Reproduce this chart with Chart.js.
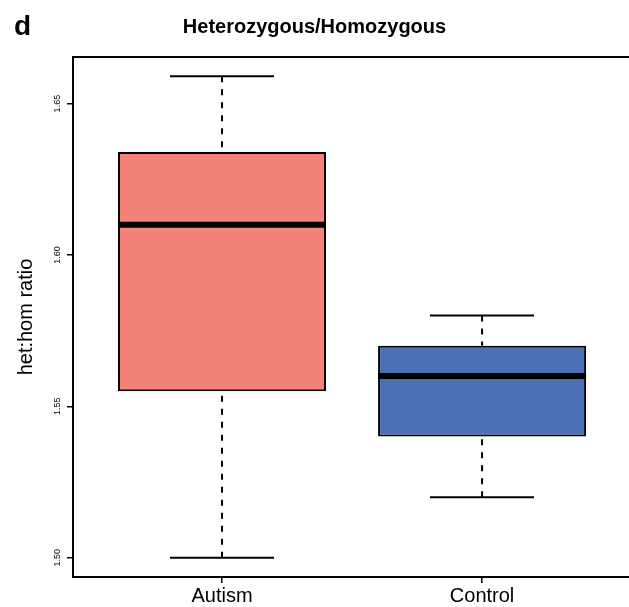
<!DOCTYPE html>
<html>
<head>
<meta charset="utf-8">
<script src="https://cdn.jsdelivr.net/npm/chart.js@4/dist/chart.umd.min.js"></script>
<style>
  html, body { margin: 0; padding: 0; background: #fff; overflow: hidden; }
  #wrap { width: 629px; height: 607px; }
</style>
</head>
<body>
<div id="wrap"><canvas id="c" width="629" height="607"></canvas></div>
<script>
// ---- data ----
const categories = ['Autism', 'Control'];
const whiskerLow  = [1.500, 1.520];
const q1          = [1.555, 1.540];
const median      = [1.610, 1.560];
const q3          = [1.634, 1.570];
const whiskerHigh = [1.659, 1.580];
const boxColors   = ['#F38278', '#4A6FB5'];
const yTicks      = [1.50, 1.55, 1.60, 1.65];
const yTickLabels = ['1.50', '1.55', '1.60', '1.65'];
const categoryPositions = [1, 2];

const boxData = categories.map((c, i) => ({ x: categoryPositions[i], y: [q1[i], q3[i]] }));

const FONT = '"Liberation Sans", Arial, Helvetica, sans-serif';

const boxPlugin = {
  id: 'boxParts',
  beforeDatasetsDraw(chart) {
    // whiskers (dashed) + staples
    const ctx = chart.ctx;
    const yS = chart.scales.y;
    const meta = chart.getDatasetMeta(0);
    ctx.save();
    meta.data.forEach((bar, i) => {
      const x = bar.x;
      const half = bar.width / 4;
      ctx.strokeStyle = '#000';
      ctx.lineWidth = 2;
      ctx.setLineDash([6, 7]);
      ctx.beginPath();
      ctx.moveTo(x, yS.getPixelForValue(whiskerHigh[i]));
      ctx.lineTo(x, yS.getPixelForValue(q3[i]));
      ctx.moveTo(x, yS.getPixelForValue(whiskerLow[i]));
      ctx.lineTo(x, yS.getPixelForValue(q1[i]));
      ctx.stroke();
      ctx.setLineDash([]);
      ctx.beginPath();
      ctx.moveTo(x - half, yS.getPixelForValue(whiskerHigh[i]));
      ctx.lineTo(x + half, yS.getPixelForValue(whiskerHigh[i]));
      ctx.moveTo(x - half, yS.getPixelForValue(whiskerLow[i]));
      ctx.lineTo(x + half, yS.getPixelForValue(whiskerLow[i]));
      ctx.stroke();
    });
    ctx.restore();
  },
  afterDatasetsDraw(chart) {
    const ctx = chart.ctx;
    const yS = chart.scales.y;
    const meta = chart.getDatasetMeta(0);
    ctx.save();
    meta.data.forEach((bar, i) => {
      const y = yS.getPixelForValue(median[i]);
      ctx.strokeStyle = '#000';
      ctx.lineWidth = 6;
      ctx.lineCap = 'butt';
      ctx.beginPath();
      ctx.moveTo(bar.x - bar.width / 2, y);
      ctx.lineTo(bar.x + bar.width / 2, y);
      ctx.stroke();
    });
    ctx.restore();
  },
  afterDraw(chart) {
    const ctx = chart.ctx;
    const a = chart.chartArea;
    ctx.save();
    ctx.strokeStyle = '#000';
    ctx.lineWidth = 2;
    ctx.beginPath();
    ctx.moveTo(chart.width + 5, a.top);
    ctx.lineTo(a.left, a.top);
    ctx.lineTo(a.left, a.bottom);
    ctx.lineTo(chart.width + 5, a.bottom);
    ctx.stroke();
    // panel letter
    ctx.fillStyle = '#000';
    ctx.font = 'bold 28px ' + FONT;
    ctx.textAlign = 'left';
    ctx.textBaseline = 'alphabetic';
    ctx.fillText('d', 14, 35);
    ctx.restore();
  }
};

new Chart(document.getElementById('c'), {
  type: 'bar',
  data: {
    datasets: [{
      data: boxData,
      backgroundColor: boxColors,
      borderColor: '#000',
      borderWidth: 2,
      borderSkipped: false,
      barPercentage: 0.8,
      categoryPercentage: 1.0
    }]
  },
  options: {
    responsive: false,
    animation: false,
    devicePixelRatio: 1,
    layout: { padding: 0 },
    plugins: {
      legend: { display: false },
      tooltip: { enabled: false },
      title: {
        display: true,
        text: 'Heterozygous/Homozygous',
        color: '#000',
        font: { family: FONT, size: 20, weight: 'bold', lineHeight: 1.2 },
        padding: { top: 15, bottom: 18 }
      }
    },
    scales: {
      x: {
        type: 'linear',
        offset: false,
        min: 0.427,
        max: 2.565,
        afterBuildTicks: (s) => { s.ticks = categoryPositions.map(v => ({ value: v })); },
        afterFit: (s) => { s.height = 30; },
        border: { display: false },
        grid: { offset: false, drawOnChartArea: false, drawTicks: true, tickLength: 6, color: '#000', lineWidth: 1.5 },
        ticks: {
          color: '#000',
          padding: 1,
          font: { family: FONT, size: 20 },
          maxRotation: 0,
          minRotation: 0,
          callback: (v) => categories[categoryPositions.indexOf(v)]
        }
      },
      y: {
        type: 'linear',
        min: 1.49362,
        max: 1.6654,
        afterBuildTicks: (s) => { s.ticks = yTicks.map(v => ({ value: v })); },
        afterFit: (s) => { s.width = 73; },
        border: { display: false },
        grid: { drawOnChartArea: false, drawTicks: true, tickLength: 6, color: '#000', lineWidth: 1.5 },
        title: {
          display: true,
          text: 'het:hom ratio',
          color: '#000',
          font: { family: FONT, size: 20, lineHeight: 1.2 },
          padding: { top: 14, bottom: 0 }
        },
        ticks: {
          color: '#000',
          padding: 1,
          crossAlign: 'center',
          minRotation: 90,
          maxRotation: 90,
          font: { family: FONT, size: 9 },
          callback: (v) => yTickLabels[yTicks.indexOf(v)]
        }
      }
    }
  },
  plugins: [boxPlugin]
});
</script>
</body>
</html>
